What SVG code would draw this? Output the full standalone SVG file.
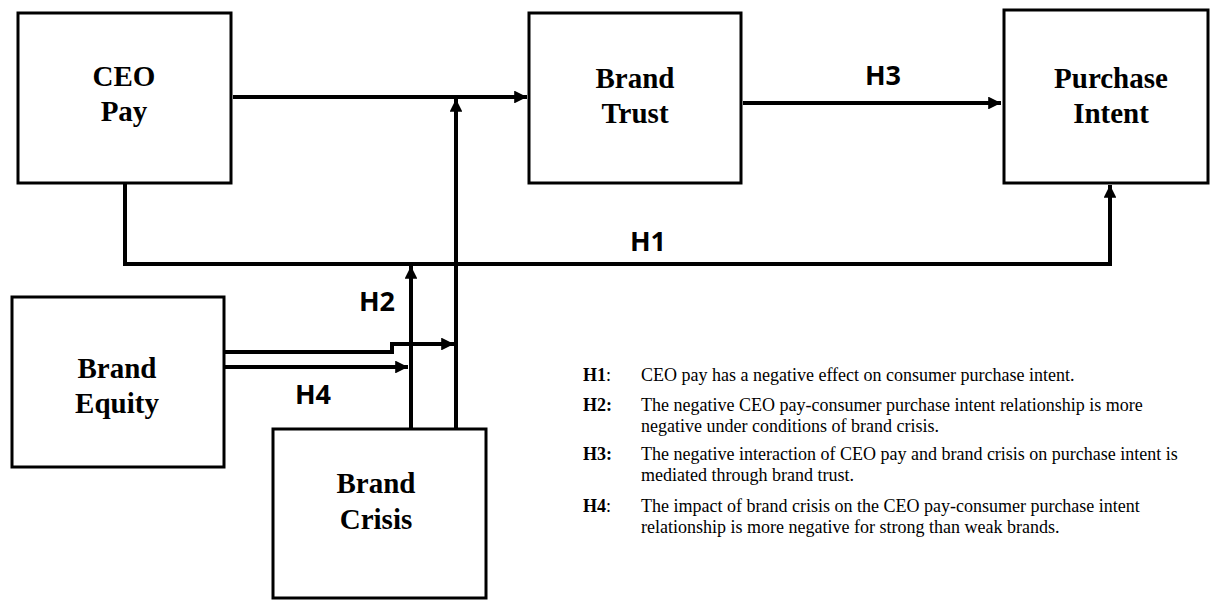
<svg xmlns="http://www.w3.org/2000/svg" width="1210" height="600" viewBox="0 0 1210 600">
<style>
.box{fill:#fff;stroke:#000;stroke-width:3}
.lbl{font-family:"Liberation Serif","Times New Roman",serif;font-weight:bold;font-size:29px;text-anchor:middle;fill:#000}
.h{font-family:"Open Sans","DejaVu Sans",sans-serif;font-weight:bold;font-size:27px;text-anchor:middle;fill:#000}
.c{fill:none;stroke:#000;stroke-width:4}
.t{font-family:"Liberation Serif","Times New Roman",serif;font-size:18px;fill:#000}
.tb{font-weight:bold}
</style>
<defs>
<marker id="ah" viewBox="0 0 10 10" refX="10" refY="5" markerWidth="3.8" markerHeight="3.2" markerUnits="strokeWidth" orient="auto">
<path d="M0,0 L10,5 L0,10 z" fill="#000"/>
</marker>
</defs>
<g id="connectors">
<path class="c" d="M233,97 H527" marker-end="url(#ah)"/>
<path class="c" d="M456,429 L456,99" marker-end="url(#ah)"/>
<path class="c" d="M743,103 H1001" marker-end="url(#ah)"/>
<path class="c" d="M125,184 V264 H1110 V185" marker-end="url(#ah)"/>
<path class="c" d="M411,429 V266" marker-end="url(#ah)"/>
<path class="c" d="M224,352 H392 V344 H454" marker-end="url(#ah)"/>
<path class="c" d="M224,367 H408" marker-end="url(#ah)"/>
</g>
<g id="labels">
<text class="h" x="883" y="85">H3</text>
<text class="h" x="648" y="251">H1</text>
<text class="h" x="377" y="311">H2</text>
<text class="h" x="313" y="404">H4</text>
</g>
<g id="ceo-pay">
<rect class="box" x="18" y="13" width="213" height="170"/>
<text class="lbl" x="124" y="86">CEO</text>
<text class="lbl" x="124" y="121">Pay</text>
</g>
<g id="brand-trust">
<rect class="box" x="529" y="13" width="212" height="170"/>
<text class="lbl" x="635" y="88">Brand</text>
<text class="lbl" x="635" y="123">Trust</text>
</g>
<g id="purchase-intent">
<rect class="box" x="1004" y="10" width="204" height="173"/>
<text class="lbl" x="1111" y="88">Purchase</text>
<text class="lbl" x="1111" y="123">Intent</text>
</g>
<g id="brand-equity">
<rect class="box" x="12" y="297" width="212" height="170"/>
<text class="lbl" x="117" y="378">Brand</text>
<text class="lbl" x="117" y="413">Equity</text>
</g>
<g id="brand-crisis">
<rect class="box" x="273" y="429" width="213" height="169"/>
<text class="lbl" x="376" y="493">Brand</text>
<text class="lbl" x="376" y="529">Crisis</text>
</g>
<g id="legend">
<text class="t" x="583" y="381"><tspan class="tb">H1</tspan>:</text>
<text class="t" x="641" y="381">CEO pay has a negative effect on consumer purchase intent.</text>
<text class="t tb" x="583" y="411">H2:</text>
<text class="t" x="641" y="411">The negative CEO pay-consumer purchase intent relationship is more</text>
<text class="t" x="641" y="432">negative under conditions of brand crisis.</text>
<text class="t tb" x="583" y="460">H3:</text>
<text class="t" x="641" y="460">The negative interaction of CEO pay and brand crisis on purchase intent is</text>
<text class="t" x="641" y="481">mediated through brand trust.</text>
<text class="t" x="583" y="512"><tspan class="tb">H4</tspan>:</text>
<text class="t" x="641" y="512">The impact of brand crisis on the CEO pay-consumer purchase intent</text>
<text class="t" x="641" y="533">relationship is more negative for strong than weak brands.</text>
</g>
</svg>
